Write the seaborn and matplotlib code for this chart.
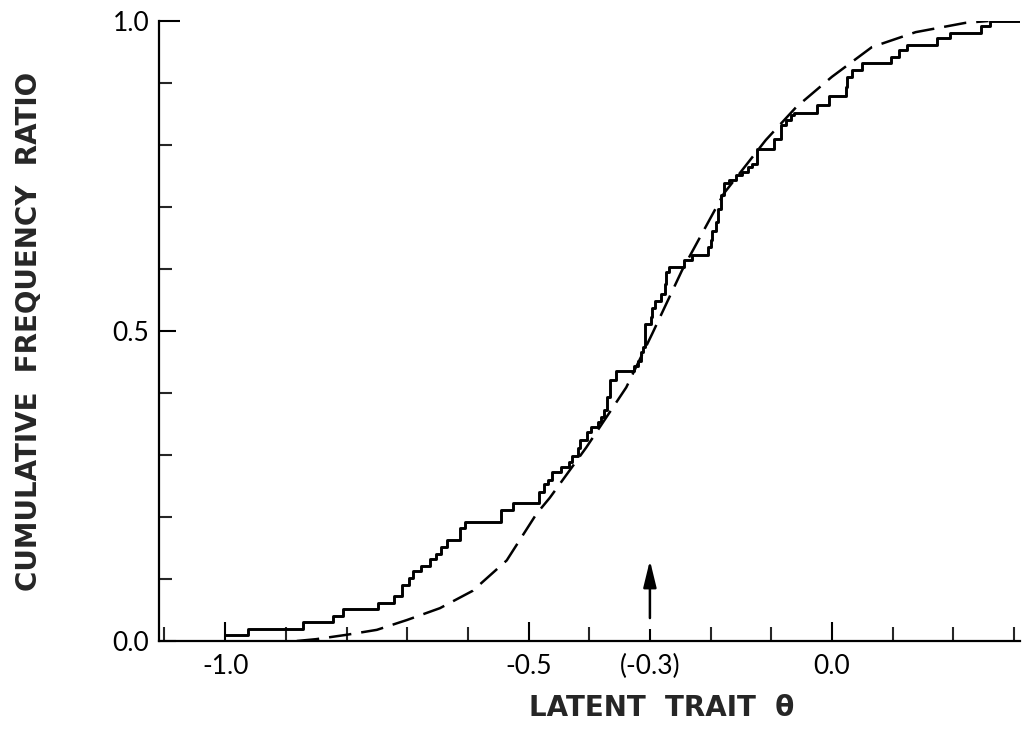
import numpy as np
import pandas as pd
import seaborn as sns
import matplotlib.pyplot as plt
from matplotlib.ticker import MultipleLocator

# =============================
# Data
# =============================
# observed cumulative frequency ratio: jump location and level after jump
step_theta = [-1.000, -0.963, -0.872, -0.823, -0.806, -0.748, -0.722, -0.709,
              -0.697, -0.690, -0.677, -0.663, -0.652, -0.645, -0.634, -0.613,
              -0.605, -0.545, -0.525, -0.482, -0.474, -0.468, -0.462, -0.446,
              -0.434, -0.428, -0.419, -0.416, -0.404, -0.397, -0.386, -0.380,
              -0.375, -0.371, -0.366, -0.356, -0.326, -0.320, -0.315, -0.312,
              -0.308, -0.299, -0.296, -0.291, -0.282, -0.275, -0.274, -0.268,
              -0.243, -0.230, -0.205, -0.200, -0.197, -0.191, -0.187, -0.183,
              -0.178, -0.169, -0.158, -0.148, -0.139, -0.131, -0.123, -0.095,
              -0.084, -0.076, -0.068, -0.062, -0.024, -0.005, 0.023, 0.025,
              0.033, 0.050, 0.098, 0.110, 0.124, 0.173, 0.195, 0.245, 0.261]
step_ratio = [0.010, 0.019, 0.031, 0.040, 0.052, 0.061, 0.073, 0.090,
              0.102, 0.113, 0.121, 0.132, 0.141, 0.151, 0.163, 0.182,
              0.192, 0.211, 0.222, 0.240, 0.253, 0.260, 0.272, 0.280,
              0.288, 0.299, 0.312, 0.324, 0.337, 0.345, 0.353, 0.361,
              0.372, 0.393, 0.421, 0.435, 0.444, 0.452, 0.466, 0.474,
              0.512, 0.522, 0.537, 0.548, 0.560, 0.576, 0.595, 0.603,
              0.614, 0.622, 0.635, 0.646, 0.662, 0.676, 0.697, 0.719,
              0.738, 0.743, 0.751, 0.757, 0.765, 0.770, 0.793, 0.810,
              0.832, 0.840, 0.848, 0.852, 0.864, 0.879, 0.894, 0.910,
              0.921, 0.933, 0.942, 0.953, 0.961, 0.972, 0.981, 0.992, 1.000]

# fitted (dashed) curve
fit_theta = [-0.882, -0.850, -0.800, -0.750, -0.700, -0.646, -0.592, -0.536,
             -0.487, -0.465, -0.405, -0.339, -0.296, -0.247, -0.222, -0.178,
             -0.109, -0.059, 0.000, 0.066, 0.138, 0.220, 0.258]
fit_ratio = [0.000, 0.003, 0.010, 0.018, 0.034, 0.053, 0.081, 0.130,
             0.205, 0.231, 0.312, 0.409, 0.496, 0.598, 0.643, 0.722,
             0.808, 0.861, 0.910, 0.958, 0.982, 0.997, 1.000]

x_major = [-1.0, -0.5, -0.3, 0.0]
x_major_labels = ["-1.0", "-0.5", "(-0.3)", "0.0"]
y_major = [0.0, 0.5, 1.0]
y_major_labels = ["0.0", "0.5", "1.0"]

arrow_theta = -0.3
arrow_from, arrow_to = 0.037, 0.130

X_MIN, X_MAX = -1.109, 0.31

# =============================
# Plot
# =============================
sns.set_style("ticks")
plt.rcParams["font.family"] = ["Lato", "DejaVu Sans"]

fig = plt.figure(figsize=(10.34, 7.39), dpi=100)
ax = fig.add_axes([0.1538, 0.1326, 0.8327, 0.839])

steps = pd.DataFrame({"theta": step_theta + [X_MAX],
                      "ratio": step_ratio + [step_ratio[-1]]})
fit = pd.DataFrame({"theta": fit_theta, "ratio": fit_ratio})

sns.lineplot(data=steps, x="theta", y="ratio", ax=ax, color="black",
             linewidth=2.1, drawstyle="steps-post", sort=False)
sns.lineplot(data=fit, x="theta", y="ratio", ax=ax, color="black",
             linewidth=1.8, dashes=False, sort=False)
ax.lines[-1].set_dashes((9, 4))

ax.annotate("", xy=(arrow_theta, arrow_to), xytext=(arrow_theta, arrow_from),
            arrowprops=dict(arrowstyle="-|>,head_length=0.9,head_width=0.22",
                            color="black", lw=1.8, mutation_scale=18,
                            shrinkA=0, shrinkB=0))

ax.set_xlim(X_MIN, X_MAX)
ax.set_ylim(0, 1.0)

ax.set_xticks(x_major)
ax.set_xticklabels(x_major_labels)
ax.xaxis.set_minor_locator(MultipleLocator(0.1))
ax.set_yticks(y_major)
ax.set_yticklabels(y_major_labels)
ax.yaxis.set_minor_locator(MultipleLocator(0.1))

ax.tick_params(axis="x", which="major", direction="in", length=14, width=1.5,
               pad=9, labelsize=19, colors="black")
ax.tick_params(axis="x", which="minor", direction="in", length=10, width=1.5)
ax.tick_params(axis="y", which="major", direction="in", length=12, width=1.5,
               pad=7, labelsize=19, colors="black")
ax.tick_params(axis="y", which="minor", direction="in", length=9, width=1.5)
# -0.3 is marked with a short tick, -1.0 / 0.0 with long ones
for t, v in zip(ax.xaxis.get_major_ticks(), x_major):
    t.tick1line.set_markersize(9 if v == -0.3 else 14)
ax.yaxis.get_major_ticks()[-1].tick1line.set_markersize(15)

sns.despine(ax=ax)
for s in ["left", "bottom"]:
    ax.spines[s].set_linewidth(1.6)
    ax.spines[s].set_color("black")

ax.set_xlabel("LATENT  TRAIT  θ", fontsize=20, fontweight="bold",
              family=["DejaVu Sans"])
ax.set_ylabel("CUMULATIVE  FREQUENCY  RATIO", fontsize=20, fontweight="bold",
              family=["DejaVu Sans"])
ax.xaxis.set_label_coords(0.584, -0.085)
ax.yaxis.set_label_coords(-0.135, 0.5)

fig.savefig("out.png", dpi=100)
